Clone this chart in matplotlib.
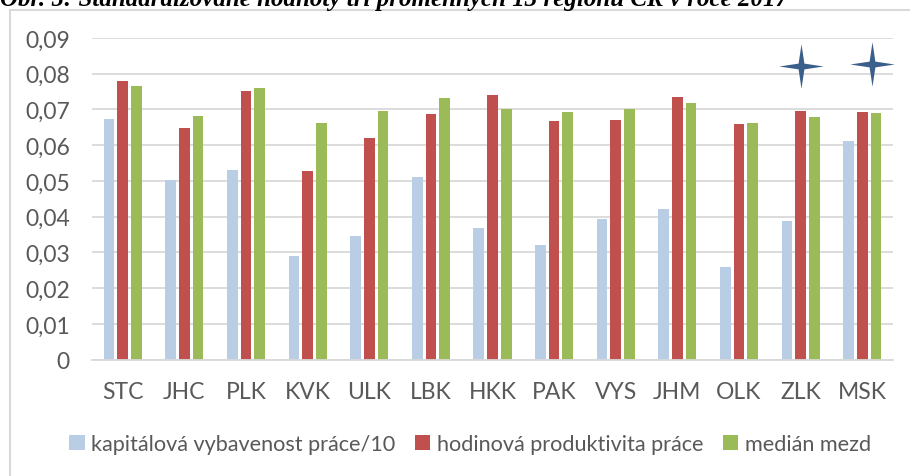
import matplotlib
matplotlib.use("Agg")
import matplotlib.pyplot as plt
import numpy as np
from matplotlib.path import Path
from matplotlib.lines import Line2D
from matplotlib.ticker import FuncFormatter, MultipleLocator
from matplotlib.patches import Patch

regions = ["STC", "JHC", "PLK", "KVK", "ULK", "LBK", "HKK", "PAK", "VYS", "JHM", "OLK", "ZLK", "MSK"]
kapital = [0.0673, 0.0502, 0.0531, 0.0291, 0.0347, 0.0511, 0.0369, 0.0321, 0.0394, 0.0422, 0.0259, 0.0387, 0.0613]
produktivita = [0.0780, 0.0647, 0.0752, 0.0527, 0.0620, 0.0687, 0.0740, 0.0667, 0.0671, 0.0734, 0.0659, 0.0695, 0.0694]
median = [0.0765, 0.0683, 0.0759, 0.0662, 0.0695, 0.0731, 0.0700, 0.0693, 0.0701, 0.0719, 0.0661, 0.0678, 0.0690]
series_names = ["kapitálová vybavenost práce/10", "hodinová produktivita práce", "medián mezd"]
star_regions = ["ZLK", "MSK"]
star_offsets = [0.0, 0.16]
star_values = [0.0823, 0.0828]
title = "Obr. 5: Standardizované hodnoty tří proměnných 13 regionů ČR v roce 2017"

colors = ["#B9CDE5", "#C0504D", "#9BBB59"]
text_col = "#595959"
grid_col = "#D9D9D9"
tick_font = ["Lato", "Open Sans", "DejaVu Sans"]

fig = plt.figure(figsize=(9.10, 4.77), dpi=100)
ax = fig.add_axes([92/910, 116.3/477, 801/910, 321.7/477])

x = np.arange(len(regions))
w = 0.174
step = 0.222
for i, (vals, c) in enumerate(zip([kapital, produktivita, median], colors)):
    ax.bar(x + (i - 1) * step, vals, width=w, color=c, zorder=3)

ax.set_xlim(-0.5, len(regions) - 0.5)
ax.set_ylim(0, 0.09)
ax.yaxis.set_major_locator(MultipleLocator(0.01))
ax.yaxis.set_major_formatter(FuncFormatter(lambda v, p: "0" if abs(v) < 1e-9 else f"{v:.2f}".replace(".", ",")))
ax.set_xticks(x)
ax.set_xticklabels(regions)
ax.grid(axis="y", color=grid_col, linewidth=1.3, zorder=0)
for s in ["top", "right", "left"]:
    ax.spines[s].set_visible(False)
ax.spines["bottom"].set_color(grid_col)
ax.spines["bottom"].set_linewidth(1.3)
ax.spines["bottom"].set_zorder(4)
ax.tick_params(axis="both", length=0, colors=text_col, labelsize=16.5)
ax.tick_params(axis="y", pad=16)
ax.tick_params(axis="x", pad=15)
for lab in ax.get_xticklabels() + ax.get_yticklabels():
    lab.set_family(tick_font)

# four-pointed stars
a = 0.13
star_path = Path([(0, 1), (a, a), (1, 0), (a, -a), (0, -1), (-a, -a), (-1, 0), (-a, a), (0, 1)],
                 [Path.MOVETO] + [Path.LINETO] * 7 + [Path.CLOSEPOLY])
for r, off, v in zip(star_regions, star_offsets, star_values):
    ax.plot(regions.index(r) + off, v, marker=star_path, markersize=32, color="#3A5F8B",
            markeredgewidth=0, clip_on=False, zorder=5)

handles = [Patch(facecolor=c, edgecolor="none") for c in colors]
leg = fig.legend(handles, series_names, loc="center", bbox_to_anchor=(470/910, 1 - 445/477),
                 ncol=3, frameon=False, handlelength=0.72, handleheight=0.72, handletextpad=0.3,
                 columnspacing=0.9, prop={"family": tick_font, "size": 15.6})
for t in leg.get_texts():
    t.set_color(text_col)

# chart frame
fig.add_artist(Line2D([10/910, 10/910], [0, 1 - 11/477], color=grid_col, linewidth=1.5))
fig.add_artist(Line2D([10/910, 1], [1 - 11/477, 1 - 11/477], color=grid_col, linewidth=1.5))

fig.text(0.0, 1 - 6/477, title, ha="left", va="baseline", fontsize=18,
         family=["Liberation Serif", "DejaVu Serif"], fontweight="bold", fontstyle="italic")

fig.savefig("out.png", dpi=100)
